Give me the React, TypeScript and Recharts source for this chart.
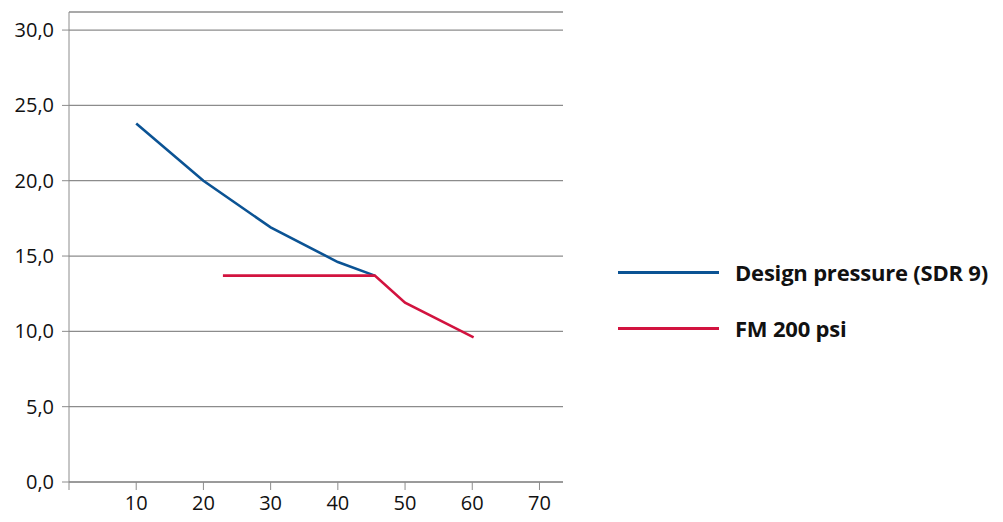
import { LineChart, Line, XAxis, YAxis, CartesianGrid } from "recharts";

const designX = [10, 20, 30, 40, 45.5];
const designY = [23.8, 20.0, 16.9, 14.6, 13.7];

const fmX = [22.9, 45.5, 50, 60.2];
const fmY = [13.7, 13.7, 11.9, 9.6];

const xTicks = [0, 10, 20, 30, 40, 50, 60, 70];
const yTicks = [0, 5, 10, 15, 20, 25, 30];

const SERIES = [
  { name: "Design pressure (SDR 9)", color: "#0b5394", x: designX, y: designY },
  { name: "FM 200 psi", color: "#d2133f", x: fmX, y: fmY },
];

const FONT = "'Open Sans', sans-serif";

const LegendBox = () => (
  <div style={{ fontFamily: FONT, position: "absolute", left: 618, top: 244 }}>
    {SERIES.map((s) => (
      <div key={s.name} style={{ display: "flex", alignItems: "center", height: 56 }}>
        <div style={{ width: 101, height: 3, background: s.color, marginRight: 16 }} />
        <span style={{ fontSize: 22, fontWeight: 700, color: "#111", whiteSpace: "nowrap", letterSpacing: -0.2 }}>{s.name}</span>
      </div>
    ))}
  </div>
);

export default function App() {
  return (
    <div style={{ position: "absolute", left: 0, top: 0, width: 1003, height: 522, background: "#fff" }}>
      <LineChart width={1003} height={522} margin={{ top: 12, right: 440, bottom: 0, left: 0 }}>
        <CartesianGrid vertical={false} stroke="#8c8c8c" strokeWidth={1.3} />
        <XAxis
          type="number"
          dataKey="x"
          domain={[0, 73.5]}
          ticks={xTicks}
          allowDataOverflow
          tickFormatter={(v) => (v === 0 ? "" : String(v))}
          stroke="#8c8c8c"
          tickSize={8}
          tickMargin={6}
          height={40}
          tick={{ fill: "#111", fontSize: 20, fontFamily: FONT }}
        />
        <YAxis
          type="number"
          domain={[0, 31.2]}
          ticks={yTicks}
          allowDataOverflow
          tickFormatter={(v) => v.toFixed(1).replace(".", ",")}
          stroke="#8c8c8c"
          tickSize={7}
          tickMargin={8}
          width={69}
          tick={{ fill: "#111", fontSize: 20, fontFamily: FONT }}
        />
        {SERIES.map((s) => (
          <Line
            key={s.name}
            name={s.name}
            data={s.x.map((x, i) => ({ x, y: s.y[i] }))}
            dataKey="y"
            stroke={s.color}
            strokeWidth={2.6}
            dot={false}
            activeDot={false}
            isAnimationActive={false}
          />
        ))}
      </LineChart>
      <LegendBox />
    </div>
  );
}
